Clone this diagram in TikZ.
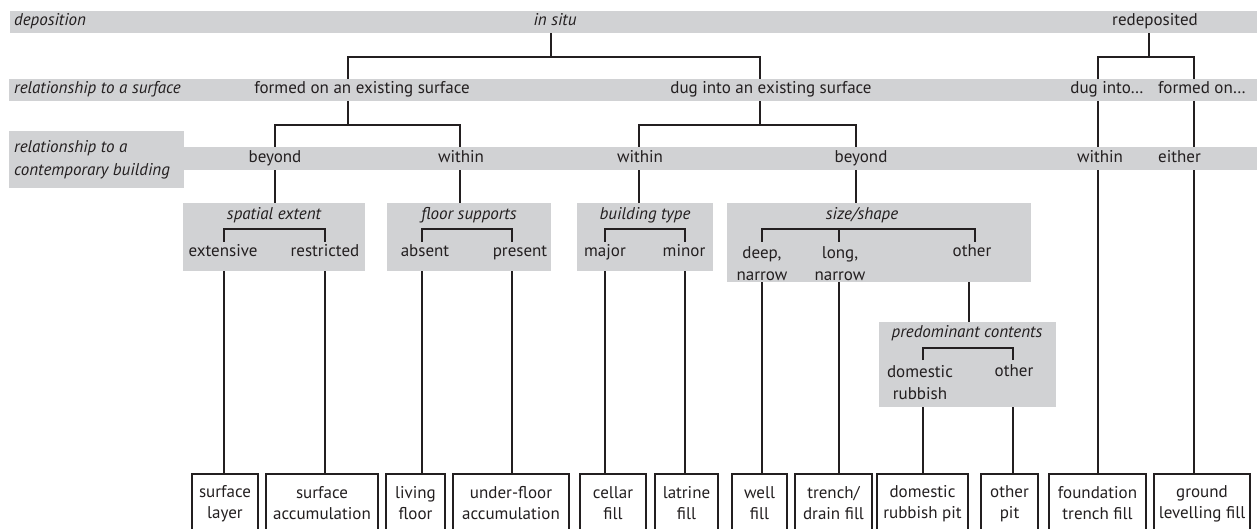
\documentclass[tikz,border=0pt]{standalone}
\usepackage{fontspec}
\setmainfont{PT Sans}
\usetikzlibrary{calc}
\definecolor{bandgrey}{RGB}{209,210,212}
\definecolor{ink}{RGB}{35,31,32}
\pgfdeclarelayer{lines}
\pgfdeclarelayer{bands}
\pgfsetlayers{lines,bands,main}
\begin{document}
\begin{tikzpicture}[x=1pt,y=-1pt,
  txt/.style={inner sep=0pt, text height=12pt, text depth=4pt, font=\fontsize{17}{20}\selectfont, text=ink},
  it/.style={txt, font=\fontsize{17}{20}\selectfont\itshape},
  twoline/.style={inner sep=0pt, align=center, font=\fontsize{17}{22}\selectfont, text=ink},
  twoit/.style={inner sep=0pt, align=left, font=\fontsize{17}{23}\selectfont\itshape, text=ink},
  leaf/.style={draw=ink, line width=1.9pt, inner sep=0pt, anchor=north, minimum height=59pt, align=center, font=\fontsize{17}{21}\selectfont, text=ink},
  panel/.style={fill=bandgrey, inner sep=0pt, anchor=north west},
  tree/.style={draw=ink, line width=1.9pt}
]
\useasboundingbox (0,0) rectangle (1257,529);

% ---- bands and panels
\begin{pgfonlayer}{bands}
\node[panel, minimum width=1247pt, minimum height=22pt] (band1) at (10,11) {};
\node[panel, minimum width=1248pt, minimum height=22pt] (band2) at (9,79) {};
\node[panel, minimum width=1248pt, minimum height=23pt] (band3) at (9,147) {};
\node[panel, minimum width=175pt, minimum height=57pt] (band3lab) at (9,131) {};
\node[panel, minimum width=182pt, minimum height=68pt] (pSpat) at (183,203) {};
\node[panel, minimum width=164pt, minimum height=68pt] (pFloor) at (387,203) {};
\node[panel, minimum width=136pt, minimum height=68pt] (pBuild) at (577,203) {};
\node[panel, minimum width=304pt, minimum height=79pt] (pSize) at (727,203) {};
\node[panel, minimum width=177pt, minimum height=85pt] (pPred) at (879,322) {};
\end{pgfonlayer}

% ---- texts
\node[it, anchor=west] (dep) at (14,22) {deposition};
\node[it] (insitu) at (555,22) {in situ};
\node[txt] (redep) at (1155,22) {redeposited};
\node[it, anchor=west] (rsurf) at (14,90) {relationship to a surface};
\node[txt] (formed) at (362,90) {formed on an existing surface};
\node[txt] (dug) at (771,90) {dug into an existing surface};
\node[txt] (dugr) at (1107,90) {dug into…};
\node[txt] (formedr) at (1202,90) {formed on…};
\node[twoit, anchor=west] (rbld) at (14,160) {relationship to a\\contemporary building};
\node[txt] (bey1) at (275,158.5) {beyond};
\node[txt] (wit1) at (461,158.5) {within};
\node[txt] (wit2) at (640,158.5) {within};
\node[txt] (bey2) at (861,158.5) {beyond};
\node[txt] (wit3) at (1100,158.5) {within};
\node[txt] (either) at (1179.5,158.5) {either};

\node[it] (tSpat) at (274,216) {spatial extent};
\node[it] (tFloor) at (469,216) {floor supports};
\node[it] (tBuild) at (645,216) {building type};
\node[it] (tSize) at (862,216) {size/shape};
\node[it] (tPred) at (967,333) {predominant contents};

\node[txt] (ext) at (223,253) {extensive};
\node[txt] (res) at (325,253) {restricted};
\node[txt] (abs) at (425,253) {absent};
\node[txt] (pre) at (520,253) {present};
\node[txt] (maj) at (605,253) {major};
\node[txt] (mnr) at (684,253) {minor};
\node[twoline] (deep) at (762,264) {deep,\\narrow};
\node[twoline] (long) at (840,264) {long,\\narrow};
\node[txt] (oth1) at (972,253) {other};
\node[twoline] (dom) at (920,383) {domestic\\rubbish};
\node[txt] (oth2) at (1014,372) {other};

% ---- leaves
\node[leaf, minimum width=66pt] (lSurfLayer) at (225,473) {surface\\layer};
\node[leaf, minimum width=112pt] (lSurfAcc) at (322,473) {surface\\accumulation};
\node[leaf, minimum width=59pt] (lLiving) at (415.5,473) {living\\floor};
\node[leaf, minimum width=116pt] (lUnder) at (511,473) {under-floor\\accumulation};
\node[leaf, minimum width=66pt] (lCellar) at (613,473) {cellar\\fill};
\node[leaf, minimum width=63pt] (lLatrine) at (686.5,473) {latrine\\fill};
\node[leaf, minimum width=55pt] (lWell) at (759.5,473) {well\\fill};
\node[leaf, minimum width=77pt] (lTrench) at (833.5,473) {trench/\\drain fill};
\node[leaf, minimum width=91pt] (lDomPit) at (922.5,473) {domestic\\rubbish pit};
\node[leaf, minimum width=57pt] (lOthPit) at (1009.5,473) {other\\pit};
\node[leaf, minimum width=97pt] (lFound) at (1097.5,473) {foundation\\trench fill};
\node[leaf, minimum width=96pt] (lGround) at (1202,473) {ground\\levelling fill};

% ---- junction coordinates
\coordinate (cInsitu) at (551,22);
\coordinate (bus1) at (551,57);
\coordinate (cFormed) at (348,90);
\coordinate (cDug) at (760,90);
\coordinate (cRedep) at (1149,22);
\coordinate (bus2) at (1149,57);
\coordinate (cDugR) at (1098,90);
\coordinate (cFormedR) at (1194,90);
\coordinate (bus3) at (348,125);
\coordinate (cBey1) at (275,158);
\coordinate (cWit1) at (460,158);
\coordinate (bus4) at (760,125);
\coordinate (cWit2) at (639,158);
\coordinate (cBey2) at (856,158);
\coordinate (bExt) at (224,242);
\coordinate (bRes) at (325,242);
\coordinate (bAbs) at (422,242);
\coordinate (bPre) at (512,242);
\coordinate (bMaj) at (605,242);
\coordinate (bMin) at (685,242);
\coordinate (bDeep) at (762,242);
\coordinate (bLong) at (839,242);
\coordinate (bOthS) at (975,242);
\coordinate (cOthL) at (969,260);
\coordinate (bDom) at (923,360);
\coordinate (bPOth) at (1013,360);

% ---- connectors (under the bands)
\begin{pgfonlayer}{lines}
\draw[tree] (cInsitu) -- (bus1);
\draw[tree] (cFormed) |- (bus1) -| (cDug);
\draw[tree] (cRedep) -- (bus2);
\draw[tree] (cDugR) |- (bus2) -| (cFormedR);
\draw[tree] (cFormed) -- (bus3);
\draw[tree] (cBey1) |- (bus3) -| (cWit1);
\draw[tree] (cDug) -- (bus4);
\draw[tree] (cWit2) |- (bus4) -| (cBey2);
\draw[tree] (cBey1) -- (cBey1 |- pSpat.center);
\draw[tree] (cWit1) -- (cWit1 |- pFloor.center);
\draw[tree] (cWit2) -- (cWit2 |- pBuild.center);
\draw[tree] (cBey2) -- (cBey2 |- pSize.center);
\draw[tree] (bExt) -- (bExt |- lSurfLayer.north);
\draw[tree] (bRes) -- (bRes |- lSurfAcc.north);
\draw[tree] (bAbs) -- (bAbs |- lLiving.north);
\draw[tree] (bPre) -- (bPre |- lUnder.north);
\draw[tree] (bMaj) -- (bMaj |- lCellar.north);
\draw[tree] (bMin) -- (bMin |- lLatrine.north);
\draw[tree] (bDeep) -- (bDeep |- lWell.north);
\draw[tree] (bLong) -- (bLong |- lTrench.north);
\draw[tree] (cOthL) -- (cOthL |- pPred.center);
\draw[tree] (bDom) -- (bDom |- lDomPit.north);
\draw[tree] (bPOth) -- (bPOth |- lOthPit.north);
\draw[tree] (cDugR) -- (cDugR |- lFound.north);
\draw[tree] (cFormedR) -- (cFormedR |- lGround.north);
\end{pgfonlayer}

% ---- brackets inside panels
\draw[tree] (bExt) -- ++(0,-13) -| (bRes);
\draw[tree] (bAbs) -- ++(0,-13) -| (bPre);
\draw[tree] (bMaj) -- ++(0,-13) -| (bMin);
\draw[tree] (bDeep) -- ++(0,-13) -| (bOthS);
\draw[tree] (bLong) -- ++(0,-13);
\draw[tree] (bDom) -- ++(0,-12) -| (bPOth);
\end{tikzpicture}
\end{document}
